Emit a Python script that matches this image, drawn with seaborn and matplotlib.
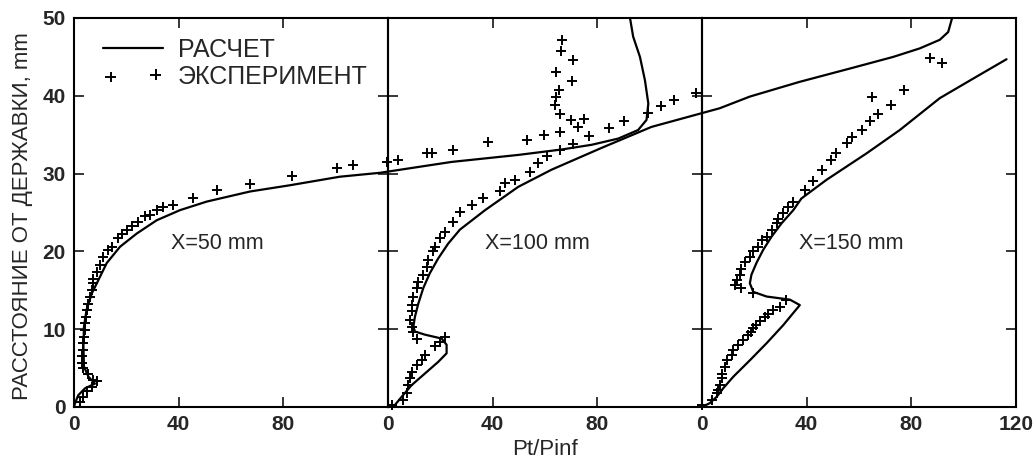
import matplotlib
matplotlib.use("Agg")
import matplotlib.pyplot as plt
import seaborn as sns

# calculated profiles, Pt/Pinf vs distance from holder (mm)
calc50_pt = [0, 0.4, 1.6, 4.2, 8.0, 5.5, 3.8, 3.6, 3.8, 4.8, 6.8, 9.3, 12.5, 17.6, 24.0,
             31.6, 40.5, 50.7, 67.3, 82.5, 101.6, 116.9, 144.3, 169.8, 186.4, 197.8,
             208.0, 215.6, 218.8, 219.5, 218.2, 216.3, 213.7, 212.5]
calc50_h = [0, 0.5, 1.5, 2.4, 3.0, 3.9, 5.2, 7.8, 10.3, 12.5, 14.6, 16.3, 18.5, 20.6, 22.3,
            24.0, 25.3, 26.4, 27.7, 28.5, 29.6, 30.1, 31.5, 32.4, 33.1, 33.7,
            34.5, 35.6, 36.9, 39.0, 42.0, 45.0, 47.6, 50.0]

calc100_pt = [2.0, 5.2, 9.0, 14.1, 19.2, 22.4, 22.4, 20.5, 14.1, 10.3, 9.7, 10.3, 11.6, 13.5,
              16.0, 19.2, 23.0, 27.5, 37.1, 49.8, 62.5, 81.6, 100.7, 126.8, 138.3, 157.4,
              176.5, 193.1, 203.3, 210.9, 214.1, 215.6]
calc100_h = [0, 1.3, 2.8, 4.3, 5.8, 6.9, 8.0, 8.8, 9.3, 9.7, 10.3, 11.6, 13.3, 15.3,
             17.2, 19.1, 21.0, 22.8, 25.3, 28.3, 30.5, 33.3, 36.0, 38.4, 39.9, 41.8,
             43.5, 45.0, 46.1, 47.2, 48.2, 50.0]

calc150_pt = [0, 3.0, 5.6, 8.1, 12.0, 18.3, 24.7, 31.0, 37.4, 33.6, 24.7, 19.6, 18.3, 18.9,
              20.8, 23.4, 26.6, 30.4, 34.9, 38.0, 47.6, 62.9, 75.6, 90.9, 103.6, 116.4]
calc150_h = [0, 0.5, 1.3, 2.4, 3.9, 6.0, 8.2, 10.5, 13.1, 13.8, 14.2, 14.8, 15.9, 17.0,
             18.5, 20.2, 21.9, 23.6, 25.3, 26.8, 29.2, 32.6, 35.6, 39.7, 42.2, 44.7]

# experiment
exp50_pt = [2.3, 3.6, 4.9, 6.8, 8.7, 7.4, 5.5, 3.6, 2.9, 2.9, 3.3, 3.6, 3.8, 4.2, 4.2, 4.6,
            4.9, 5.5, 6.1, 6.8, 7.4, 7.4, 8.7, 9.9, 11.2, 13.1, 14.4, 16.9, 18.2, 20.1, 22.0,
            24.6, 27.1, 29.0, 31.6, 34.1, 37.9, 45.6, 54.5, 67.3, 83.2, 100.4, 106.7, 119.5,
            123.9, 134.8, 136.7, 144.9, 158.3, 173.0, 179.7, 185.7, 192.7, 189.9, 194.9,
            185.7, 183.8, 184.4, 185.3, 190.2, 184.1, 190.8, 186.1, 186.6]
exp50_h = [0.7, 1.3, 2.0, 2.6, 3.3, 3.5, 4.3, 5.0, 5.6, 6.5, 7.3, 8.2, 9.0, 9.9, 10.8, 11.6,
           12.5, 13.3, 14.2, 15.0, 15.9, 16.5, 17.4, 18.3, 19.3, 20.2, 20.6, 21.7, 22.3, 22.8, 23.2,
           23.8, 24.5, 24.7, 25.3, 25.7, 26.0, 26.8, 27.9, 28.7, 29.7, 30.7, 31.1, 31.5,
           31.7, 32.6, 32.6, 33.0, 34.0, 34.3, 35.0, 35.4, 36.0, 36.9, 37.0,
           37.7, 38.8, 39.9, 40.7, 41.9, 43.1, 44.6, 45.8, 47.2]

exp100_pt = [1.4, 5.8, 7.1, 7.7, 8.4, 9.0, 10.9, 12.9, 14.1, 18.0, 19.9, 21.8, 11.0, 9.7,
             9.0, 8.4, 9.0, 9.0, 9.7, 11.0, 11.6, 13.5, 14.8, 15.4, 17.3, 17.9, 19.9, 21.8,
             24.9, 27.5, 32.0, 36.4, 42.8, 44.7, 48.5, 54.2, 57.4, 60.9, 65.7, 70.8, 76.8,
             84.4, 90.3, 99.5, 104.3, 109.4, 117.9, 207.1, 211.6]
exp100_h = [0.3, 0.9, 1.8, 2.8, 3.7, 4.5, 5.4, 6.0, 6.7, 7.8, 8.4, 9.0, 8.8, 9.7,
            10.3, 11.2, 12.3, 13.1, 14.2, 15.3, 16.1, 17.0, 18.0, 18.9, 20.0, 20.6, 21.7, 22.5,
            23.8, 25.1, 25.9, 26.8, 27.8, 28.8, 29.2, 30.2, 31.3, 32.2, 33.0, 33.8, 34.8,
            35.8, 36.8, 37.8, 38.7, 39.4, 40.4, 44.8, 44.2]

exp150_pt = [0.0, 3.7, 5.6, 6.2, 6.8, 7.5, 7.5, 8.8, 9.4, 11.3, 12.0, 13.8, 15.8, 17.7, 18.9,
             19.6, 20.8, 22.1, 24.0, 25.3, 27.2, 29.8, 32.3, 19.6, 15.1, 12.6, 13.2, 14.5,
             15.1, 16.4, 18.3, 19.6, 21.5, 22.8, 24.7, 26.6, 28.5, 29.1, 31.0, 32.9, 34.9,
             39.3, 42.5, 45.7, 49.5, 51.4, 55.3, 57.2, 61.0, 64.2, 67.1, 72.4, 64.8, 77.2]
exp150_h = [0.3, 0.9, 1.8, 2.2, 2.8, 3.7, 4.3, 5.2, 6.0, 6.7, 7.3, 8.0, 8.6, 9.3, 9.7,
            10.1, 10.5, 11.0, 11.6, 12.0, 12.5, 12.9, 13.8, 14.6, 15.3, 15.7, 16.3, 17.0,
            17.8, 18.7, 19.3, 20.0, 20.6, 21.5, 21.9, 22.8, 23.6, 24.2, 24.9, 25.7, 26.4,
            27.9, 29.0, 30.5, 31.7, 32.6, 33.9, 34.7, 35.6, 36.7, 37.7, 38.8, 39.8, 40.8]

panel_names = ["X=50 mm", "X=100 mm", "X=150 mm"]
x_ticks = [0, 40, 80]
y_ticks = [0, 10, 20, 30, 40, 50]

sns.set_style("ticks")
plt.rcParams['font.family'] = ['Liberation Sans', 'DejaVu Sans']

fig, axes = plt.subplots(1, 3, figsize=(10.35, 4.59), dpi=100, sharey=True)
fig.subplots_adjust(left=0.0715, right=0.9816, bottom=0.1133, top=0.9608, wspace=0)

calcs = [(calc50_pt, calc50_h), (calc100_pt, calc100_h), (calc150_pt, calc150_h)]
exps = [(exp50_pt, exp50_h), (exp100_pt, exp100_h), (exp150_pt, exp150_h)]

for i, ax in enumerate(axes):
    ax.set_facecolor('none')
    cx, cy = calcs[i]
    ex, ey = exps[i]
    sns.lineplot(x=cx, y=cy, sort=False, estimator=None, color='black', linewidth=1.6,
                 ax=ax, label='РАСЧЕТ' if i == 0 else None)
    sns.scatterplot(x=ex, y=ey, marker='+', s=60, color='black', linewidth=1.4,
                    ax=ax, label='ЭКСПЕРИМЕНТ' if i == 0 else None)
    # curves run on into the next panels (same scale)
    for art in ax.lines + ax.collections:
        art.set_clip_on(False)

    ax.set_xlim(0, 120)
    ax.set_ylim(0, 50)
    ax.set_xticks(x_ticks + [120] if i == 2 else x_ticks)
    ax.set_yticks(y_ticks)
    ax.tick_params(direction='in', top=True, right=True, left=True, bottom=True,
                   length=7, width=1.3, labelsize=15, pad=6)
    for lab in ax.get_xticklabels() + ax.get_yticklabels():
        lab.set_fontweight('bold')
    for sp in ax.spines.values():
        sp.set_linewidth(1.5)
        sp.set_color('black')
    ax.text(37, 21, panel_names[i], fontsize=15.5, va='center', ha='left')

axes[0].set_ylabel('РАССТОЯНИЕ ОТ ДЕРЖАВКИ, mm', fontsize=16, va='center')
axes[0].yaxis.set_label_coords(-0.165, 0.49)
axes[1].set_xlabel('Pt/Pinf', fontsize=16, va='center')
axes[1].xaxis.set_label_coords(0.5, -0.11)

axes[0].legend(loc='upper left', bbox_to_anchor=(103 / 1035, 1 - 38 / 459),
               bbox_transform=fig.transFigure, frameon=False, fontsize=18,
               scatterpoints=2, handlelength=2.4, handletextpad=0.6,
               labelspacing=0.1, borderpad=0, borderaxespad=0)

plt.savefig('out.png', dpi=100)
